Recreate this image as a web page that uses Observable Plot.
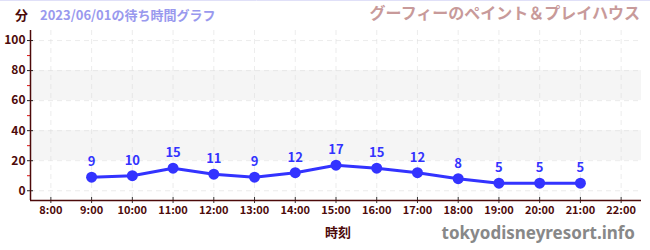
<!DOCTYPE html>
<html><head><meta charset="utf-8">
<script src="https://cdn.jsdelivr.net/npm/d3@7"></script>
<script src="https://cdn.jsdelivr.net/npm/@observablehq/plot@0.6"></script>
<style>
body{margin:0;background:#fff;}
svg{font-family:"Noto Sans CJK JP","Noto Sans",sans-serif;}
</style></head>
<body><div id="chart"></div>
<script>
const hours = [9,10,11,12,13,14,15,16,17,18,19,20,21];
const waits = [9,10,15,11,9,12,17,15,12,8,5,5,5];
const xTicks = [8,9,10,11,12,13,14,15,16,17,18,19,20,21,22];
const yTicks = [0,20,40,60,80,100];
const yMinor = [10,30,50,70,90];
const bandLow = [20,60];
const bandHigh = [40,80];
const titleText = "グーフィーのペイント＆プレイハウス";
const subtitleText = "2023/06/01の待ち時間グラフ";
const yUnit = "分";
const xLabel = "時刻";
const credit = "tokyodisneyresort.info";

const data = hours.map((h,i)=>({h, v: waits[i]}));
const bands = bandLow.map((l,i)=>({y1:l, y2:bandHigh[i]}));
const xDom = [7.5, 22.5], yDom = [-6.5, 106.7];
const dark = "#4d0a0a";

const chart = Plot.plot({
  width: 650, height: 250,
  marginTop: 30, marginBottom: 50, marginLeft: 30, marginRight: 9,
  x: {domain: xDom},
  y: {domain: yDom},
  style: {fontFamily: '"Noto Sans CJK JP","Noto Sans",sans-serif', background: "#fff"},
  marks: [
    Plot.rect(bands, {y1: "y1", y2: "y2", fill: "#f5f5f5"}),
    Plot.gridX(xTicks, {stroke: "#ddd", strokeOpacity: 0.55, strokeDasharray: "5,4"}),
    Plot.gridY(yTicks, {stroke: "#ddd", strokeOpacity: 0.55, strokeDasharray: "5,4"}),
    Plot.axisY(yMinor, {tickSize: 3, stroke: "#e01010", tickFormat: () => "", label: null}),
    Plot.axisY(yTicks, {tickSize: 3, tickPadding: 2, stroke: "#222", color: dark, fontSize: 12, fontWeight: "bold", label: null}),
    Plot.ruleY(yTicks, {x1: xDom[0], x2: xDom[0] + 3/40.7, stroke: "#222"}),
    Plot.axisX(xTicks, {tickSize: 3, tickPadding: 3, stroke: "#333", color: dark, fontSize: 11, fontWeight: "bold", tickFormat: d => d + ":00", label: null}),
    Plot.ruleX(xTicks, {y1: yDom[0], y2: yDom[0] + 3/1.5, stroke: "#333"}),
    Plot.ruleX([xDom[0]], {stroke: dark, strokeWidth: 1.5}),
    Plot.ruleY([yDom[0]], {stroke: dark, strokeWidth: 1.5}),
    Plot.line(data, {x: "h", y: "v", stroke: "#3333ff", strokeWidth: 3}),
    Plot.dot(data, {x: "h", y: "v", r: 5.5, fill: "#3333ff"}),
    Plot.text(data, {x: "h", y: "v", text: "v", dy: -15, fill: "#3333ff", fontSize: 13, fontWeight: "bold"})
  ]
});
document.getElementById("chart").appendChild(chart);

const svg = d3.select(chart);
svg.append("line").attr("x1",0).attr("x2",650).attr("y1",0.5).attr("y2",0.5).attr("stroke","#e0e0f8");
const addText = (t, x, y, opts) => {
  const e = svg.append("text").text(t).attr("x", x).attr("y", y)
    .attr("font-weight", "bold").attr("font-size", opts.size).attr("fill", opts.fill)
    .attr("text-anchor", opts.anchor || "start");
  if (opts.family) e.attr("font-family", opts.family);
};
addText(yUnit, 15, 20, {size: 13, fill: dark});
addText(subtitleText, 40, 20, {size: 13, fill: "#9999ee"});
addText(titleText, 640, 19, {size: 16, fill: "#c89a9a", anchor: "end"});
addText(xLabel, 338, 237, {size: 13, fill: dark, anchor: "middle"});
addText(credit, 635, 239, {size: 17, fill: "#888", anchor: "end", family: '"Noto Sans",sans-serif'});
</script>
</body></html>
